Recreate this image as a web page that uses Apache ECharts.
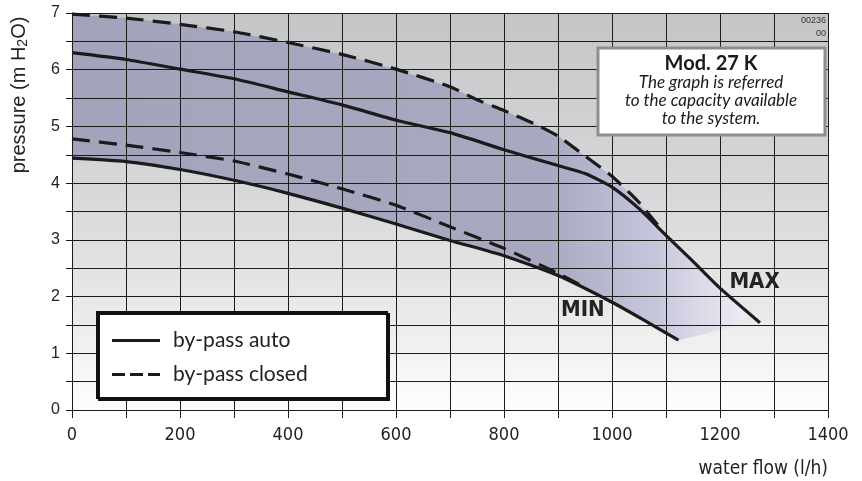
<!DOCTYPE html>
<html>
<head>
<meta charset="utf-8">
<script src="https://cdn.jsdelivr.net/npm/echarts@6/dist/echarts.min.js"></script>
<style>
  html, body { margin: 0; padding: 0; background: #fff; }
  #chart { width: 862px; height: 481px; }
</style>
</head>
<body>
<div id="chart"></div>
<script>
// pump curves: flow in l/h, pressure in m H2O
const autoMaxFlow = [0, 100, 200, 300, 400, 500, 600, 700, 800, 900, 950, 1000, 1050, 1100, 1150, 1200, 1274]
const autoMaxP = [6.30, 6.18, 6.01, 5.84, 5.61, 5.38, 5.11, 4.89, 4.59, 4.31, 4.17, 3.93, 3.55, 3.08, 2.62, 2.15, 1.54]

const closedMaxFlow = [0, 100, 200, 300, 400, 500, 600, 700, 750, 800, 860, 900, 950, 1000, 1050, 1095]
const closedMaxP = [6.98, 6.91, 6.80, 6.67, 6.48, 6.27, 6.01, 5.70, 5.47, 5.28, 5.03, 4.83, 4.48, 4.12, 3.66, 3.14]

const autoMinFlow = [0, 100, 200, 300, 400, 500, 600, 700, 800, 900, 1000, 1060, 1123]
const autoMinP = [4.44, 4.38, 4.24, 4.05, 3.82, 3.56, 3.28, 2.99, 2.72, 2.37, 1.90, 1.58, 1.23]

const closedMinFlow = [0, 100, 200, 300, 400, 500, 600, 700, 800, 900, 940]
const closedMinP = [4.78, 4.67, 4.54, 4.39, 4.16, 3.90, 3.61, 3.23, 2.85, 2.41, 2.21]

// right hand tip of the shaded working band
const bandTipFlow = [1150, 1200, 1252, 1232]
const bandTipP = [2.62, 2.15, 1.72, 1.48]

// where the MAX / MIN tags sit
const maxTag = [1264, 2.26]
const minTag = [946, 1.75]

const xTicks = { min: 0, max: 1400, step: 200 }
const yTicks = { min: 0, max: 7, step: 1 }

const zip = (xs, ys) => xs.map((x, i) => [x, ys[i]])

// band = top dashed curve, tip, then lower solid curve back to 0
const bandPts = zip(closedMaxFlow, closedMaxP)
  .concat(zip(bandTipFlow, bandTipP))
  .concat(zip(autoMinFlow, autoMinP).reverse())

const narrow = "'Liberation Sans Narrow', 'Arial Narrow', 'DejaVu Sans Condensed', sans-serif"
const arial = "'Liberation Sans', Arial, sans-serif"
const calibri = "Lato, 'Open Sans', sans-serif"
const ink = '#1b1b1b'

// legend glyphs: a plain bar and a three dash bar
const solidIcon = 'path://M0,0H48V3H0Z'
const dashIcon = 'path://M0,0H13V3H0Z M18,0H31V3H18Z M36,0H48V3H36Z'

const chart = echarts.init(document.getElementById('chart'))

const tagLabel = (text) => ({
  show: true,
  position: 'inside',
  formatter: text,
  fontFamily: narrow,
  fontWeight: 'bold',
  fontSize: 22,
  color: '#232323'
})

const option = {
  animation: false,
  grid: {
    left: 72, right: 34, top: 13, bottom: 71,
    show: true,
    borderWidth: 0,
    backgroundColor: new echarts.graphic.LinearGradient(0, 0, 0, 1, [
      { offset: 0, color: '#c4c5c7' },
      { offset: 0.5, color: '#d9dadb' },
      { offset: 0.75, color: '#e9e9ea' },
      { offset: 0.9, color: '#f6f6f6' },
      { offset: 1, color: '#fdfdfd' }
    ])
  },
  legend: {
    orient: 'vertical',
    left: 112, top: 330,
    padding: 0,
    itemWidth: 48, itemHeight: 3.4, itemGap: 13,
    z: 12,
    itemStyle: { color: ink },
    data: [
      { name: 'by-pass auto', icon: solidIcon },
      { name: 'by-pass closed', icon: dashIcon }
    ],
    textStyle: { fontFamily: calibri, fontSize: 21, color: '#222', lineHeight: 20, padding: [0, 0, 0, 8] }
  },
  xAxis: {
    type: 'value',
    min: xTicks.min, max: xTicks.max, interval: xTicks.step,
    z: 3,
    name: 'water flow (l/h)',
    nameLocation: 'end',
    nameGap: 0,
    nameTextStyle: { fontFamily: narrow, fontSize: 19, color: '#222', align: 'right', verticalAlign: 'top', padding: [50, 0, 0, 0] },
    axisLine: { lineStyle: { color: ink, width: 1 } },
    axisTick: { length: 8, lineStyle: { color: ink } },
    minorTick: { show: true, splitNumber: 2, length: 8, lineStyle: { color: ink } },
    axisLabel: { margin: 16, fontFamily: narrow, fontSize: 18, color: '#222', formatter: (v) => String(v) },
    splitLine: { lineStyle: { color: ink, width: 1 } },
    minorSplitLine: { show: true, lineStyle: { color: ink, width: 1 } }
  },
  yAxis: {
    type: 'value',
    min: yTicks.min, max: yTicks.max, interval: yTicks.step,
    z: 3,
    name: '{a|pressure (m H}{s|2}{a|O)}',
    nameLocation: 'middle',
    nameGap: 42,
    nameTextStyle: {
      padding: [0, 0, 0, 233],
      rich: {
        a: { fontFamily: arial, fontSize: 20, color: '#222' },
        s: { fontFamily: arial, fontSize: 14, color: '#222', padding: [8, 0, 0, 0] }
      }
    },
    axisLine: { lineStyle: { color: ink, width: 1 } },
    axisTick: { length: 6, lineStyle: { color: ink } },
    minorTick: { show: true, splitNumber: 2, length: 6, lineStyle: { color: ink } },
    axisLabel: { margin: 12, fontFamily: arial, fontSize: 16, color: '#222' },
    splitLine: { lineStyle: { color: ink, width: 1 } },
    minorSplitLine: { show: true, lineStyle: { color: ink, width: 1 } }
  },
  graphic: [
    // legend frame
    {
      type: 'rect', z: 10,
      shape: { x: 97, y: 312, width: 290, height: 86 },
      style: { fill: '#fff', stroke: '#111', lineWidth: 2, shadowColor: '#111', shadowOffsetX: 2, shadowOffsetY: 2 }
    },
    // model note
    {
      type: 'rect', z: 10,
      shape: { x: 598, y: 48, width: 227, height: 87 },
      style: { fill: '#fff', stroke: '#8e8e8e', lineWidth: 3 }
    },
    { type: 'text', z: 11, x: 711, y: 64, style: { text: 'Mod. 27 K', fontFamily: calibri, fontWeight: 'bold', fontSize: 20, fill: '#1a1a1a', align: 'center', verticalAlign: 'middle' } },
    { type: 'text', z: 11, x: 711, y: 83, style: { text: 'The graph is referred', fontFamily: calibri, fontStyle: 'italic', fontSize: 17, fill: '#1a1a1a', align: 'center', verticalAlign: 'middle' } },
    { type: 'text', z: 11, x: 711, y: 101, style: { text: 'to the capacity available', fontFamily: calibri, fontStyle: 'italic', fontSize: 17, fill: '#1a1a1a', align: 'center', verticalAlign: 'middle' } },
    { type: 'text', z: 11, x: 711, y: 119, style: { text: 'to the system.', fontFamily: calibri, fontStyle: 'italic', fontSize: 17, fill: '#1a1a1a', align: 'center', verticalAlign: 'middle' } },
    // drawing code
    { type: 'text', z: 11, x: 826, y: 21, style: { text: '00236', fontFamily: arial, fontSize: 9, fill: '#333', align: 'right', verticalAlign: 'middle' } },
    { type: 'text', z: 11, x: 826, y: 34, style: { text: '00', fontFamily: arial, fontSize: 9, fill: '#333', align: 'right', verticalAlign: 'middle' } }
  ],
  series: [
    {
      type: 'custom',
      z: 1,
      silent: true,
      data: [[0, 0]],
      renderItem: (params, api) => ({
        type: 'polygon',
        shape: { points: bandPts.map(p => api.coord(p)) },
        style: {
          fill: new echarts.graphic.LinearGradient(0, 0, 1, 0, [
            { offset: 0, color: '#a3a3bb' },
            { offset: 0.7, color: '#a8a8c1' },
            { offset: 0.86, color: '#c5c5db' },
            { offset: 1, color: '#eeeef4' }
          ])
        }
      })
    },
    {
      name: 'by-pass auto', type: 'line', z: 4,
      data: zip(autoMaxFlow, autoMaxP),
      smooth: 0.2, symbol: 'none',
      lineStyle: { color: ink, width: 3.2 },
      itemStyle: { color: ink },
      markPoint: { symbol: 'circle', symbolSize: 1, silent: true, itemStyle: { color: 'transparent' }, label: tagLabel('MAX'), data: [{ coord: maxTag }] }
    },
    {
      name: 'by-pass auto', type: 'line', z: 4,
      data: zip(autoMinFlow, autoMinP),
      smooth: 0.2, symbol: 'none',
      lineStyle: { color: ink, width: 3.2 },
      itemStyle: { color: ink },
      markPoint: { symbol: 'circle', symbolSize: 1, silent: true, itemStyle: { color: 'transparent' }, label: tagLabel('MIN'), data: [{ coord: minTag }] }
    },
    {
      name: 'by-pass closed', type: 'line', z: 4,
      data: zip(closedMaxFlow, closedMaxP),
      smooth: 0.2, symbol: 'none',
      lineStyle: { color: ink, width: 3.2, type: [18, 9] },
      itemStyle: { color: ink }
    },
    {
      name: 'by-pass closed', type: 'line', z: 4,
      data: zip(closedMinFlow, closedMinP),
      smooth: 0.2, symbol: 'none',
      lineStyle: { color: ink, width: 3.2, type: [18, 9] },
      itemStyle: { color: ink }
    }
  ]
}

chart.setOption(option)
</script>
</body>
</html>
